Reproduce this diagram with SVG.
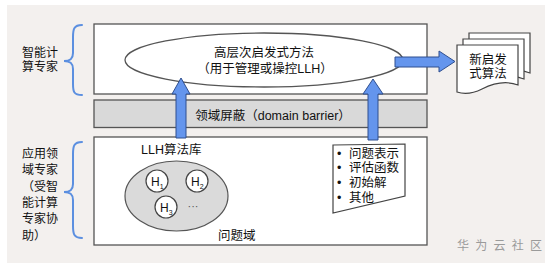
<svg xmlns="http://www.w3.org/2000/svg" width="554" height="267" viewBox="0 0 554 267">
<style>
.t{font-family:"Liberation Sans","Noto Sans CJK SC",sans-serif;font-size:12.5px;fill:#111}
.c{text-anchor:middle}
.box{fill:#fff;stroke:#555;stroke-width:1.3}
.brace{fill:none;stroke:#5b8fe0;stroke-width:2;stroke-linecap:round}
.arr{fill:#6495ed;stroke:#2f4f8f;stroke-width:1;stroke-linejoin:miter}
.doc{fill:#fff;stroke:#444;stroke-width:1.2}
.hc{fill:#fff;stroke:#444;stroke-width:1.2}
</style>
<rect x="0" y="0" width="554" height="267" fill="#fff"/>
<rect x="7" y="5" width="538" height="258" fill="#f3f0ee"/>

<g id="label-expert-top">
<path class="brace" d="M82,25 C74,25 73,29 73,37 L73,53 C73,59 70,61 64,61 C70,61 73,63 73,69 L73,84 C73,92 74,95 82,95"/>
<text class="t" x="22" y="56.5" style="font-size:12px">智能计</text>
<text class="t" x="22" y="70.5" style="font-size:12px">算专家</text>
</g>

<g id="label-expert-bottom">
<path class="brace" d="M82,142 C74,142 73,146 73,154 L73,184 C73,190 70,192 64,192 C70,192 73,194 73,200 L73,226 C73,234 74,238 82,238"/>
<text class="t" x="22" y="158" style="font-size:12px">应用领</text>
<text class="t" x="22" y="174.3" style="font-size:12px">域专家</text>
<text class="t" x="22" y="190.6" style="font-size:12px">（受智</text>
<text class="t" x="22" y="206.9" style="font-size:12px">能计算</text>
<text class="t" x="22" y="223.2" style="font-size:12px">专家协</text>
<text class="t" x="22" y="239.5" style="font-size:12px">助）</text>
</g>

<g id="top-layer">
<rect class="box" x="94" y="24" width="333" height="70"/>
</g>
<g id="high-level-heuristic">
<ellipse class="box" cx="264" cy="60" rx="139" ry="27"/>
<text class="t c" x="264" y="57">高层次启发式方法</text>
<text class="t c" x="265" y="73">（用于管理或操控LLH）</text>
</g>

<g id="domain-barrier">
<rect x="94" y="100" width="333" height="27.5" fill="#d9d9d9" stroke="#555" stroke-width="1.3"/>
<text class="t c" x="273" y="119.5">领域屏蔽（domain barrier）</text>
</g>

<g id="bottom-layer">
<rect class="box" x="94" y="137" width="333" height="108"/>
</g>

<g id="llh-library">
<text class="t" x="141" y="154">LLH算法库</text>
<ellipse cx="176.5" cy="196" rx="51.5" ry="35" fill="#dadada" stroke="#555" stroke-width="1.2"/>
</g>
<g id="h1">
<circle class="hc" cx="157" cy="181" r="11"/>
<text class="t" x="151" y="185.5" style="font-size:12px">H<tspan dy="3" style="font-size:7px">1</tspan></text>
</g>
<g id="h2">
<circle class="hc" cx="197" cy="181" r="11"/>
<text class="t" x="191" y="185.5" style="font-size:12px">H<tspan dy="3" style="font-size:7px">2</tspan></text>
</g>
<g id="h3">
<circle class="hc" cx="166" cy="207" r="11"/>
<text class="t" x="160" y="211.5" style="font-size:12px">H<tspan dy="3" style="font-size:7px">3</tspan></text>
</g>
<g id="ellipsis">
<text class="t c" x="193" y="210" style="font-size:11px;fill:#555">···</text>
</g>
<g id="problem-domain-label">
<text class="t" x="218" y="240">问题域</text>
</g>

<g id="problem-list">
<polygon points="333,145 405,144 405,196 333,213" fill="#fff" stroke="#444" stroke-width="1.2"/>
<text class="t" x="337" y="157.5">•</text>
<text class="t" x="349" y="157.5">问题表示</text>
<text class="t" x="337" y="172.3">•</text>
<text class="t" x="349" y="172.3">评估函数</text>
<text class="t" x="337" y="187.1">•</text>
<text class="t" x="349" y="187.1">初始解</text>
<text class="t" x="337" y="201.9">•</text>
<text class="t" x="349" y="201.9">其他</text>
</g>

<g id="new-heuristics">
<path class="doc" d="M469,33 H530 V73 C517,68 504,72 494,77 C484,82 475,82 469,80 Z"/>
<path class="doc" d="M463,39 H524 V79 C511,74 498,78 488,83 C478,88 469,88 463,86 Z"/>
<path class="doc" d="M457,45 H518 V85 C505,80 492,84 482,89 C472,94 463,94 457,92 Z"/>
<text class="t c" x="488" y="64">新启发</text>
<text class="t c" x="488" y="78">式算法</text>
</g>

<g id="connectors">
<polygon class="arr" points="176,138 176,94 172,94 181,78 190,94 186,94 186,138"/>
<polygon class="arr" points="368,140 368,94 363,94 373,79 383,94 378,94 378,140"/>
<polygon class="arr" points="395,57 439,57 439,51 455,61.5 439,72 439,67 395,67"/>
</g>

<g id="watermark">
<text x="457" y="250" textLength="85" lengthAdjust="spacing" style="font-family:'Noto Sans CJK SC',sans-serif;font-size:12px;fill:#9a9a9a">华 为 云 社 区</text>
</g>
</svg>
